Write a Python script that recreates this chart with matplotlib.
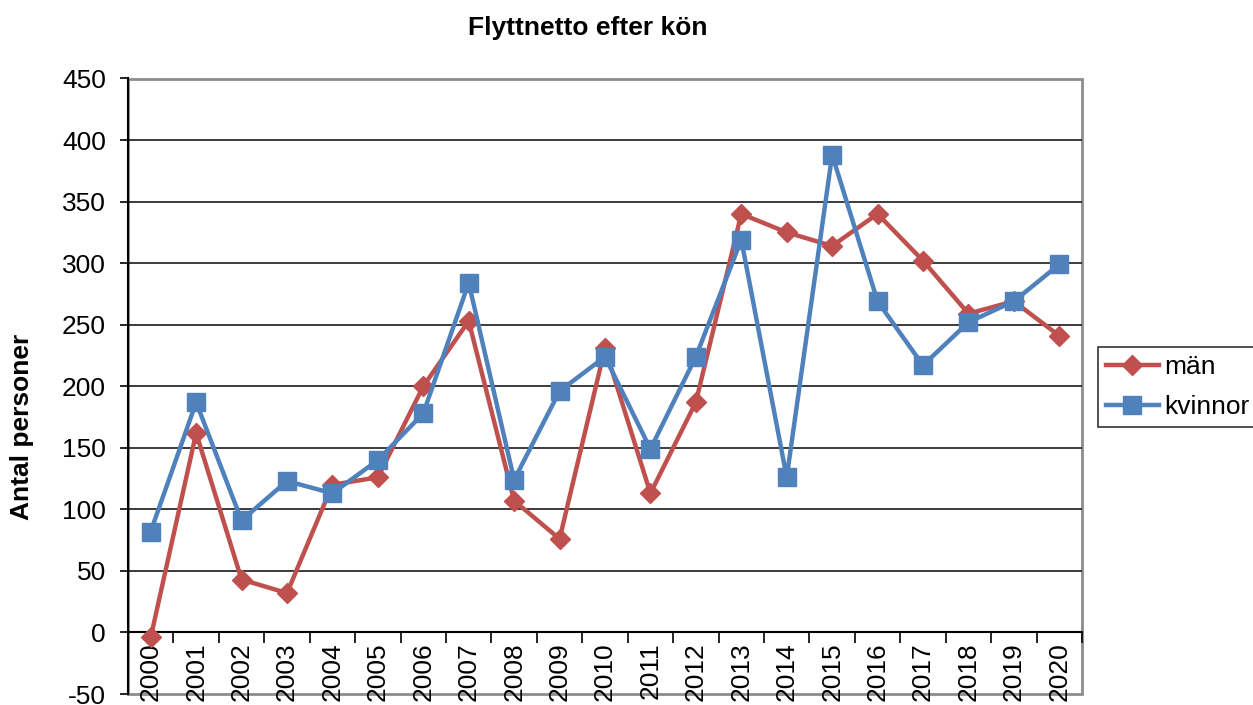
import numpy as np
import matplotlib
matplotlib.use("Agg")
import matplotlib.pyplot as plt
from matplotlib.patches import Rectangle

plt.rcParams['font.family'] = ['Liberation Sans', 'DejaVu Sans']
plt.rcParams['axes.unicode_minus'] = False

# data
years = [str(y) for y in range(2000, 2021)]
man = [-4, 162, 43, 32, 120, 126, 200, 253, 107, 76, 231, 113, 187,
       340, 325, 314, 340, 302, 259, 269, 241]
kvinnor = [82, 187, 91, 123, 113, 140, 178, 284, 124, 196, 224, 149, 224,
           319, 126, 388, 269, 217, 252, 269, 299]
yticks = list(range(-50, 451, 50))

red = '#C0504D'
blue = '#4F81BD'
fs = 19

fig = plt.figure(figsize=(12.53, 7.05), dpi=100)
ax = fig.add_axes([128/1253, 1 - 694/705, (1082-128)/1253, (694-78.5)/705])

x = np.arange(len(years))
ax.plot(x, man, color=red, lw=3.2, marker='D', ms=10, label='män', zorder=3)
ax.plot(x, kvinnor, color=blue, lw=3.2, marker='s', ms=13.5, label='kvinnor', zorder=4)

ax.set_xlim(-0.5, len(years) - 0.5)
ax.set_ylim(-50, 450)

# gridlines
for v in yticks:
    if -50 < v < 450 and v != 0:
        ax.axhline(v, color='#1a1a1a', lw=1.2, zorder=1)

ax.set_yticks(yticks)
ax.tick_params(axis='y', labelsize=fs, length=6, width=1.2, pad=10, direction='out')

# x axis sits at zero, ticks between categories, labels at centres
ax.spines['bottom'].set_position(('data', 0))
ax.spines['bottom'].set_color('black')
ax.spines['bottom'].set_linewidth(1.5)
ax.set_xticks(np.arange(-0.5, len(years), 1.0))
ax.set_xticklabels([])
ax.set_xticks(x, minor=True)
ax.set_xticklabels(years, minor=True, rotation=90, fontsize=fs, va='top')
ax.tick_params(axis='x', which='major', length=8, width=1.2, direction='out')
ax.tick_params(axis='x', which='minor', length=0, pad=7)

ax.spines['left'].set_color('black')
ax.spines['left'].set_linewidth(1.5)
ax.spines['top'].set_visible(False)
ax.spines['right'].set_visible(False)
ax.add_patch(Rectangle((0, 0), 1, 1, transform=ax.transAxes, fill=False,
                       ec='#8c8c8c', lw=2, clip_on=False, zorder=0.5))

fig.text(588/1253, 1 - 28/705, 'Flyttnetto efter kön', ha='center', va='center',
         fontsize=fs, fontweight='bold')
fig.text(22/1253, 1 - 427/705, 'Antal personer', ha='center', va='center',
         rotation=90, fontsize=fs, fontweight='bold')

leg = fig.legend(loc='upper left', bbox_to_anchor=(1098/1253, 1 - 347/705),
                 fontsize=fs, frameon=True, fancybox=False, handlelength=2.0,
                 handletextpad=0.2, borderpad=0.3, labelspacing=0.6,
                 borderaxespad=0)
leg.get_frame().set_edgecolor('black')
leg.get_frame().set_linewidth(1.2)

fig.savefig('out.png', dpi=100)
